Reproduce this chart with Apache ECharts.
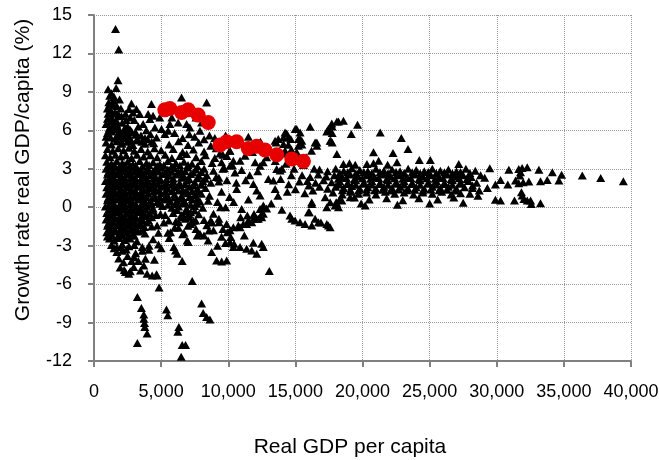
<!DOCTYPE html>
<html><head><meta charset="utf-8">
<script src="https://cdn.jsdelivr.net/npm/echarts@6/dist/echarts.min.js"></script>
<style>html,body{margin:0;padding:0;background:#fff}#c{width:659px;height:460px}</style>
</head><body><div id="c"></div>
<script>
const xTickLabels = ['0','5,000','10,000','15,000','20,000','25,000','30,000','35,000','40,000'];
const yTickLabels = ['-12','-9','-6','-3','0','3','6','9','12','15'];
const xTitle = 'Real GDP per capita';
const yTitle = 'Growth rate real GDP/capita (%)';

// highlighted series (red circles)
const redX = [5276,5650,6523,7015,7761,8508,9380,9881,10627,11493,12120,12739,13612,14732,15597];
const redY = [7.60,7.70,7.39,7.60,7.19,6.61,4.86,5.11,5.11,4.59,4.75,4.47,4.10,3.77,3.58];

// black triangles, grouped by area of the chart
const triUpper = [
[1600,13.9],[1840,12.3],[1790,9.9],[1050,9.2],[1650,9.3],[1300,8.9],[1170,8.7],[1500,8.6],[1900,8.4],[1100,8.2],[1400,8.0],[1700,7.9],[2000,7.7],[1200,7.6],[1550,7.4],[1050,7.3],[1850,7.2],[2350,7.3],[2700,7.0],[1300,7.0],[1650,6.8],[1000,6.9],[2100,6.6],[1450,6.5],[1150,6.2],[1800,6.2],[2500,6.3],[1000,5.8],[1350,5.9],[2250,5.9],
[2790,8.1],[2610,7.66],[2910,7.39],[3160,7.66],[3410,7.28],[4280,8.05],[4030,7.27],[4400,7.14],[4160,6.88],[3660,6.49],[3000,6.8],[3300,6.3],[3900,6.0],[4530,6.23],[5030,6.1],[4660,5.45],[3500,5.6],[2800,5.9],[4200,5.7],[3200,5.3],[2165,5.58],[2540,5.84],[2040,5.19],[1700,5.6],[3800,5.4],[2600,5.5],
[6520,8.56],[8390,8.17],[7140,6.23],[6900,6.49],[6270,6.61],[5650,6.49],[5520,5.97],[5280,5.71],[7890,5.97],[8015,6.61],[6000,5.8],[7500,5.5],[8600,5.6],[4900,7.0],[5800,7.0],[7600,7.0],[6600,5.4],[7100,5.7],[8200,5.3],[9000,5.4],
[900,5.5],[1250,5.45],[1600,5.35],[1950,5.5],[2350,5.4],[2750,5.25],[3100,5.65],[3550,5.1],[4000,5.3],[4450,5.0],
[1100,6.0],[1500,6.1],[1900,5.95],[2300,6.2],[2700,6.05],[3100,5.85],
[900,6.5],[1250,6.7],[1700,6.45],[2050,7.1],[2400,6.8],[1000,7.7],[1350,7.4],[1700,7.3],[1450,8.3],[1150,8.0]
];
const triDense = [
[900,5.05],[1300,4.9],[1700,5.15],[2100,4.95],[2500,5.1],[2900,4.85],[3300,5.2],[3800,4.95],[4300,5.1],[5600,4.9],[6300,5.15],[7000,4.85],[7800,5.05],[8700,4.8],
[1000,4.55],[1400,4.4],[1800,4.6],[2200,4.45],[2600,4.65],[3000,4.4],[3500,4.55],[4000,4.35],[4500,4.6],[5000,4.45],[5900,4.55],[6600,4.3],[7400,4.5],[8200,4.35],[9100,4.6],[10100,4.4],
[850,4.05],[1200,3.9],[1600,4.1],[2000,3.95],[2400,4.05],[2800,3.85],[3200,4.1],[3700,3.95],[4200,4.05],[4700,3.9],[5300,4.1],[5800,3.85],[6400,4.0],[6900,4.15],[7600,3.9],[8300,4.05],[9000,3.85],[9600,4.1],
[950,3.55],[1300,3.4],[1700,3.6],[2100,3.45],[2500,3.55],[2900,3.35],[3400,3.6],[3900,3.45],[4400,3.5],[4900,3.35],[5500,3.6],[6100,3.45],[6700,3.55],[7300,3.4],[8000,3.6],[8800,3.45],[9500,3.5],[10300,3.3],
[900,3.0],[1250,2.9],[1600,3.1],[1950,2.95],[2300,3.05],[2700,2.85],[3100,3.1],[3500,2.95],[4000,3.05],[4500,2.9],[5000,3.1],[5500,2.95],[6000,3.05],[6500,2.85],[7000,3.1],[7600,2.95],[8200,3.0],[8900,2.85],[9700,3.05],
[1000,2.55],[1350,2.4],[1700,2.6],[2050,2.45],[2450,2.55],[2850,2.35],[3250,2.6],[3700,2.45],[4150,2.5],[4600,2.35],[5100,2.6],[5600,2.45],[6150,2.55],[6700,2.4],[7200,2.6],[7800,2.45],[8400,2.5],[9100,2.35],
[850,2.05],[1200,1.9],[1550,2.1],[1900,1.95],[2300,2.05],[2700,1.85],[3100,2.1],[3550,1.95],[4000,2.05],[4450,1.9],[4900,2.1],[5400,1.95],[5900,2.0],[6400,1.85],[6900,2.1],[7500,1.95],[8100,2.05],[8700,1.9],[9300,2.0],
[950,1.55],[1300,1.4],[1650,1.6],[2000,1.45],[2400,1.55],[2800,1.35],[3200,1.6],[3650,1.45],[4100,1.5],[4550,1.4],[5050,1.6],[5500,1.45],[6000,1.55],[6600,1.35],[7100,1.6],[7700,1.45],[8300,1.5],
[900,1.05],[1250,0.9],[1600,1.1],[1950,0.95],[2350,1.05],[2750,0.85],[3150,1.1],[3600,0.95],[4050,1.05],[4500,0.9],[5000,1.1],[5450,0.95],[6000,1.0],[6500,0.85],[7000,1.1],[7500,0.95],[8000,1.05],[8600,0.9],
[1000,0.55],[1350,0.4],[1700,0.6],[2100,0.45],[2500,0.55],[2900,0.35],[3300,0.6],[3750,0.45],[4200,0.5],[4700,0.4],[5200,0.6],[5700,0.45],[6200,0.55],[6800,0.35],[7300,0.6],[7900,0.45],[8500,0.5],
[850,0.05],[1200,-0.1],[1550,0.1],[1900,-0.05],[2300,0.05],[2700,-0.15],[3100,0.1],[3500,-0.05],[3950,0.05],[4400,-0.1],[5100,0.1],[5800,-0.05],[6300,0.05],[6900,-0.15],[7500,0.1],[8100,-0.05],
[950,-0.45],[1300,-0.6],[1650,-0.4],[2000,-0.55],[2400,-0.45],[2800,-0.65],[3200,-0.4],[3650,-0.55],[4100,-0.5],[4600,-0.6],[5900,-0.45],[6500,-0.6],[7200,-0.4],[7800,-0.55],
[900,-0.95],[1250,-1.1],[1600,-0.9],[1950,-1.05],[2350,-0.95],[2750,-1.15],[3150,-0.9],[3600,-1.05],[4050,-1.0],[6100,-1.1],[6800,-0.9],[7400,-1.05],[8200,-1.0],
[1000,-1.45],[1350,-1.6],[1700,-1.4],[2100,-1.55],[2500,-1.45],[2900,-1.65],[3300,-1.4],[3750,-1.55],[4300,-1.5],[6300,-1.6],[7000,-1.45],
[950,-1.95],[1300,-2.1],[1650,-1.9],[2050,-2.05],[2450,-1.95],[2850,-2.15],[3300,-1.9],[3800,-2.05],[5500,-2.0],[6600,-2.1],
[1150,-2.45],[1500,-2.6],[1900,-2.4],[2300,-2.55],[2700,-2.45],[3200,-2.65],[4400,-2.5],
[1300,-2.95],[1700,-3.1],[2100,-2.9],[2600,-3.05],[3000,-2.95],[3600,-3.1],[4100,-3.0]
];
const triDenseFill = [
[1100,3.22],[1500,3.28],[1900,3.2],[2300,3.3],[2700,3.22],[3100,3.27],[3600,3.2],[4100,3.3],[4700,3.22],[5200,3.28],[5800,3.2],[6400,3.25],[7000,3.3],[7700,3.2],
[1050,2.72],[1450,2.78],[1850,2.7],[2250,2.8],[2650,2.72],[3050,2.77],[3450,2.7],[3900,2.8],[4350,2.72],[4800,2.78],[5300,2.7],[5800,2.76],[6300,2.72],[6800,2.8],[7400,2.7],[8000,2.75],
[1100,2.22],[1500,2.28],[1900,2.2],[2300,2.3],[2700,2.22],[3100,2.27],[3500,2.2],[3900,2.3],[4400,2.22],[4900,2.28],[5400,2.2],[5900,2.25],[6500,2.3],[7100,2.2],[7700,2.27],[8300,2.22],
[1050,1.72],[1450,1.78],[1850,1.7],[2250,1.8],[2650,1.72],[3050,1.77],[3450,1.7],[3900,1.8],[4350,1.72],[4800,1.78],[5300,1.7],[5800,1.76],[6300,1.72],[6800,1.8],[7400,1.7],[8000,1.75],
[1100,1.22],[1500,1.28],[1900,1.2],[2300,1.3],[2700,1.22],[3100,1.27],[3500,1.2],[3900,1.3],[4400,1.22],[4800,1.28],[5300,1.2],[5800,1.25],[6300,1.3],[6800,1.2],[7300,1.27],[7800,1.22],
[1050,0.72],[1450,0.78],[1850,0.7],[2250,0.8],[2650,0.72],[3050,0.77],[3450,0.7],[3900,0.8],[4450,0.72],[4900,0.78],[5500,0.7],[6000,0.76],[6600,0.72],[7100,0.8],[7700,0.7],
[1100,0.22],[1500,0.28],[1900,0.2],[2300,0.3],[2700,0.22],[3100,0.27],[3500,0.2],[3900,0.3],[4300,0.22],[4900,0.28],[5500,0.2],[6100,0.25],[6600,0.3],[7200,0.2],[7700,0.27],
[1050,-0.28],[1450,-0.22],[1850,-0.3],[2250,-0.2],[2650,-0.28],[3050,-0.23],[3450,-0.3],[3850,-0.2],[4300,-0.28],[6200,-0.22],[6800,-0.3],[7500,-0.25],
[1100,-0.78],[1500,-0.72],[1900,-0.8],[2300,-0.7],[2700,-0.78],[3100,-0.73],[3500,-0.8],[3850,-0.7],[4300,-0.78],[6500,-0.72],[7100,-0.8],
[1050,-1.28],[1450,-1.22],[1850,-1.3],[2250,-1.2],[2650,-1.28],[3050,-1.23],[3450,-1.3],[3950,-1.2],
[1100,-1.78],[1500,-1.72],[1900,-1.8],[2300,-1.7],[2700,-1.78],[3100,-1.73],[3550,-1.8],
[1000,-2.28],[1350,-2.22],[1750,-2.3],[2150,-2.2],[2550,-2.28],[3000,-2.23]
];
const triMid = [
[9380,4.2],[9900,4.0],[10380,3.63],[10880,3.63],[11250,4.02],[12000,3.5],[12370,3.24],[10130,3.24],[10130,4.41],[9600,3.0],[10500,2.7],[11000,2.9],[11600,2.5],[12200,2.8],[9300,2.3],[9900,2.1],[10600,1.9],[11300,2.1],[12990,2.21],[13360,2.08],[13490,1.43],[11870,1.82],[12120,1.3],[12370,0.91],[10630,1.43],[11000,-0.13],[9500,1.2],[10100,0.8],[9200,0.4],[9800,0.0],[10400,0.4],[11500,0.6],[12610,3.5],[12860,3.89],[13610,2.99],[13860,2.86],[12610,0.13],[12370,-0.13],[12490,-0.78],[12120,-0.9],[11750,-1.17],[11370,-1.3],[10880,-1.56],[10380,-1.56],[9880,-1.3],[9300,-0.9],[8900,-0.5],[12860,-0.1],[10750,-1.42],[11120,-1.3],
[10700,5.3],[11500,5.5],[12400,5.1],[13490,5.19],[14360,5.76],[14110,5.45],[9800,5.6],[13730,5.32],[14230,5.84],[15100,6.1],[14480,5.45],[15220,5.32],[14110,4.93],[14660,5.32],[15350,5.32],[15220,4.8],[14480,4.88],[14230,4.41],[16600,5.06],[17590,5.19],[13560,5.06],[14980,6.1],[15350,5.84],
[14300,3.4],[14900,3.0],[14700,2.5],[15300,2.0],[16000,1.7],[13900,2.2],[14500,1.8],[15000,1.4],[15700,1.1],[16300,1.3],[14000,3.0],[13500,3.6],[15800,3.9],[16400,3.0],[14400,1.2],[13700,0.9],[13200,0.3],[14000,-0.2],[15100,4.3],[16200,4.4],[13000,4.5],[11800,4.3],[14700,4.5],[14100,4.2],[14600,3.9],[15100,3.6],[15600,3.3],
[16220,0.39],[16040,-0.39],[16470,-0.9],[16720,-1.17],[17340,-1.3],[17590,-1.56],[14600,-0.65],[14730,-0.9],[14980,-1.04],[15350,-1.17],[15720,-1.3],[16220,-1.43],[15970,-0.39],[16220,0.26],[17460,-1.42],[16900,-1.2],
[17220,0.78],[17590,0.39],[18040,0.39],[18460,0.52],[20200,0.13],[19080,0.78],[18210,0.0],[18340,0.65],[17960,0.13],[17340,0.0],
[9430,0.0],[10920,-0.78],[11420,-0.65],[11920,-0.52],[12420,-0.65],[12670,0.0]
];
const triUpperRight = [
[15480,5.19],[15480,4.9],[16100,6.28],[17340,5.91],[17710,6.54],[18090,6.69],[18580,6.75],[17460,6.1],[19630,6.44],[19160,5.71],[21320,5.84],[22890,5.4],[17640,5.19],[16470,5.06],[16600,4.8],[18090,4.15],[20820,4.28],[22270,4.23],[23390,4.54],[22570,3.5],[24230,3.69],[25050,3.69],[18580,3.38],[19030,3.43],[19460,3.32],[20330,3.38],[20820,3.43],[21200,3.63],[21870,3.32],[27170,3.38],[17740,6.3],[17740,5.8],[17740,5.05],[18210,6.69]
];
const triRightBand = [
[16800,2.95],[17400,2.8],[18000,3.0],[18600,2.85],[19200,3.05],[19800,2.9],[20400,2.8],[21000,3.0],[21600,2.85],[22200,2.95],[22800,2.8],[23400,3.0],[24000,2.9],[24600,2.8],[25200,3.0],[25800,2.85],[26400,2.95],[27000,2.8],[27700,3.0],[28400,2.85],
[15500,2.5],[16100,2.35],[16700,2.55],[17300,2.4],[17900,2.5],[18500,2.35],[19100,2.55],[19700,2.4],[20300,2.5],[20900,2.35],[21500,2.55],[22100,2.4],[22700,2.5],[23300,2.35],[23900,2.55],[24500,2.4],[25100,2.5],[25700,2.35],[26300,2.55],[26900,2.4],[27500,2.5],[28100,2.35],[28800,2.5],
[15900,2.05],[16500,1.9],[17100,2.1],[17700,1.95],[18300,2.05],[18900,1.9],[19500,2.1],[20100,1.95],[20700,2.05],[21300,1.9],[21900,2.1],[22500,1.95],[23100,2.05],[23700,1.9],[24300,2.1],[24900,1.95],[25500,2.05],[26100,1.9],[26700,2.1],[27300,1.95],[27900,2.05],[28500,1.9],
[16800,1.6],[17400,1.45],[18000,1.6],[18600,1.5],[19200,1.65],[19800,1.45],[20400,1.55],[21000,1.45],[21600,1.6],[22200,1.5],[22800,1.6],[23400,1.45],[24000,1.55],[24600,1.45],[25200,1.6],[25800,1.5],[26400,1.6],[27000,1.45],[27600,1.55],[28200,1.5],
[17800,1.15],[18500,1.0],[19100,1.2],[19700,1.05],[20300,1.15],[21000,1.0],[21700,1.2],[22400,1.05],[23100,1.15],[23800,1.0],[24500,1.15],[25200,1.05],[25900,1.2],[26600,1.0],[27300,1.1],[28000,1.05],
[18300,0.6],[19400,0.75],[20500,0.6],[21800,0.7],[23000,0.55],[24200,0.7],[25600,0.6],[26800,0.75],
[18100,0.25],[19900,0.3],[22600,0.2],[25000,0.3],[27500,0.35]
];
const triRightFill = [
[18300,2.68],[18900,2.72],[19500,2.66],[20100,2.74],[20700,2.68],[21300,2.72],[21900,2.66],[22500,2.74],[23100,2.68],[23700,2.72],[24300,2.66],[24900,2.74],[25500,2.68],[26100,2.72],[26700,2.66],[27300,2.74],[28000,2.68],
[18200,2.22],[18800,2.28],[19400,2.2],[20000,2.27],[20600,2.22],[21200,2.28],[21800,2.2],[22400,2.27],[23000,2.22],[23600,2.28],[24200,2.2],[24800,2.27],[25400,2.22],[26000,2.28],[26600,2.2],[27200,2.27],[27800,2.22],
[18300,1.78],[18900,1.82],[19500,1.76],[20100,1.84],[20700,1.78],[21300,1.82],[21900,1.76],[22500,1.84],[23100,1.78],[23700,1.82],[24300,1.76],[24900,1.84],[25500,1.78],[26100,1.82],[26700,1.76],[27300,1.84],
[18500,1.33],[19100,1.37],[19700,1.31],[20300,1.39],[20900,1.33],[21500,1.37],[22100,1.31],[22700,1.39],[23300,1.33],[23900,1.37],[24500,1.31],[25100,1.39],[25700,1.33],[26300,1.37],[26900,1.31]
];
const triFarRight = [
[29480,3.04],[30900,2.93],[31640,2.99],[31890,3.07],[32270,3.11],[31770,2.72],[31720,2.47],[33140,2.93],[34140,2.72],[34830,2.54],[34630,2.08],[36370,2.47],[37740,2.29],[39430,2.02],[29900,1.77],[30280,2.13],[30820,1.77],[31400,2.08],[31640,1.87],[31970,1.95],[32390,2.0],[33260,2.02],[33760,2.13],[29900,0.58],[30280,0.52],[31320,0.52],[31840,1.17],[31890,0.91],[32020,0.65],[32270,0.52],[32520,0.52],[32570,0.26],[33260,0.31],[27300,2.6],[27800,2.2],[28200,1.7],[28700,1.3],[29100,2.3],[28600,0.9],[29300,1.5]
];
const triNeg = [
[1840,-4.0],[2100,-3.4],[2340,-5.06],[2590,-5.19],[2960,-4.67],[3460,-4.93],[3955,-5.19],[4330,-5.32],[4700,-5.32],[3710,-4.54],[4080,-3.32],[3830,-4.02],[2200,-4.3],[2500,-3.8],[2800,-4.2],[3100,-3.6],[3300,-4.2],[2700,-5.0],[3600,-3.4],[4500,-4.1],[1700,-3.5],[1950,-4.7],[2000,-3.1],[4655,-5.24],[4850,-6.27],[2400,-3.3],[1500,-3.2],[2250,-4.9],[3000,-3.9],
[3232,-7.0],[3530,-7.86],[3710,-8.37],[3710,-8.7],[3760,-9.03],[3785,-9.34],[3957,-9.86],[3232,-10.6],[5400,-7.98],[5500,-8.43],[6320,-9.34],[6245,-9.72],[6570,-10.76],[6820,-10.76],[6495,-11.67],[7313,-5.76],[8015,-7.52],[8135,-8.25],[8390,-8.56],[8635,-8.77],
[5950,-3.11],[6070,-3.37],[6195,-3.63],[6570,-4.2],[7015,-2.72],[7690,-2.2],[7890,-2.07],[8190,-2.2],[8760,-3.5],[9130,-4.15],[9510,-4.23],[9880,-4.15],[10130,-2.72],[10380,-3.11],[10880,-3.11],[11370,-3.24],[11750,-3.37],[12120,-3.63],[12610,-3.11],[11870,-2.77],[12490,-2.85],[13060,-4.98],[10130,-1.8],[11490,-1.03],[11870,-0.9],[12240,-0.9],[12610,-0.5],[8500,-2.6],[8900,-1.8],[9500,-2.3],[9800,-2.8],[8400,-1.4],[7300,-1.2],[6700,-2.0],[5200,-1.2],[5600,-2.4],[4800,-2.0],[6000,-1.6],[5000,-3.2],[4800,-2.9],[8800,-1.2],[9600,-1.7],[11200,-2.2],[7600,-1.7],[5300,-0.6],[9200,-3.0],
[4700,-1.42],[4950,-0.52],[5570,-1.03],[5700,-1.95],[6320,-1.17],[6690,-0.78],[7070,-0.52],[7190,-1.3],[6940,-2.6],[7570,-1.03],[8560,-1.81],[8690,-1.03],[9310,-1.17],[9930,-1.95],[10180,-2.33],[10430,-2.85]
];

const triangles = [].concat(triUpper, triDense, triDenseFill, triMid, triUpperRight, triRightBand, triRightFill, triFarRight, triNeg);
const redPoints = redX.map((x, i) => [x, redY[i]]);

const FONT = '"Liberation Sans", Arial, sans-serif';
const axisGray = '#808080';
const gridLine = { show: true, lineStyle: { type: [1, 1], color: '#999999', width: 1 } };

const chart = echarts.init(document.getElementById('c'), null, { renderer: 'canvas' });
chart.setOption({
  animation: false,
  backgroundColor: '#ffffff',
  grid: { left: 94, top: 15, right: 28, bottom: 99, containLabel: false, outerBoundsMode: 'none' },
  xAxis: {
    type: 'value', min: 0, max: 40000, interval: 5000,
    axisLine: { show: true, onZero: false, lineStyle: { color: axisGray, width: 2 } },
    axisTick: { show: true, inside: false, length: 6, lineStyle: { color: axisGray, width: 2 } },
    axisLabel: { color: '#000', fontSize: 18, fontFamily: FONT, margin: 22,
      formatter: v => xTickLabels[Math.round(v / 5000)] },
    splitLine: gridLine,
    name: xTitle, nameLocation: 'middle', nameGap: 76,
    nameTextStyle: { color: '#000', fontSize: 21, fontFamily: FONT, padding: [0, 25, 0, 0] }
  },
  yAxis: {
    type: 'value', min: -12, max: 15, interval: 3,
    axisLine: { show: true, onZero: false, lineStyle: { color: axisGray, width: 2 } },
    axisTick: { show: true, inside: false, length: 6, lineStyle: { color: axisGray, width: 2 } },
    axisLabel: { color: '#000', fontSize: 18, fontFamily: FONT, margin: 22,
      formatter: v => yTickLabels[Math.round((v + 12) / 3)] },
    splitLine: gridLine,
    name: yTitle, nameLocation: 'middle', nameGap: 60, nameRotate: 90,
    nameTextStyle: { color: '#000', fontSize: 21, fontFamily: FONT, padding: [0, 0, 0, 36] }
  },
  series: [
    { type: 'scatter', data: triangles, symbol: 'triangle', symbolSize: [9, 8],
      itemStyle: { color: '#000000', opacity: 1 }, silent: true, z: 2 },
    { type: 'scatter', data: redPoints, symbol: 'circle', symbolSize: 15,
      itemStyle: { color: '#e60000', opacity: 1 }, silent: true, z: 3 }
  ]
});
</script></body></html>
